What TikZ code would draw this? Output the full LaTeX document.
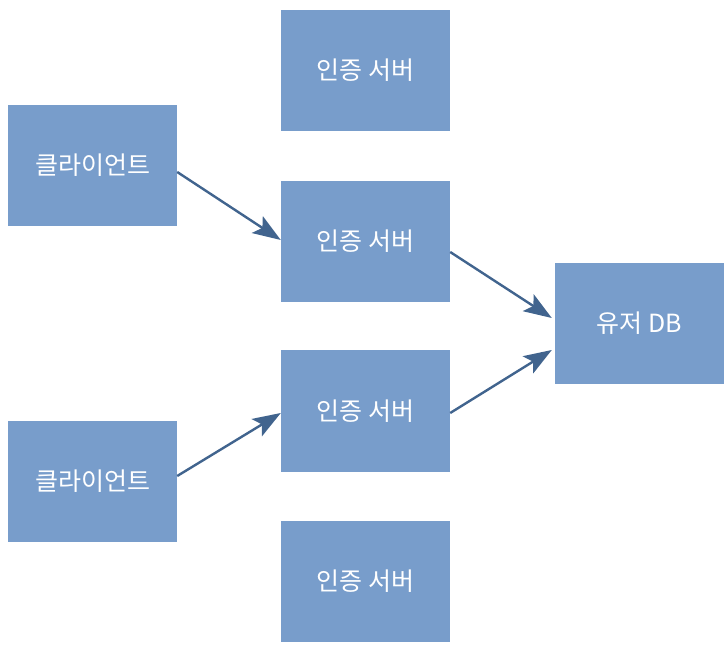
\documentclass[tikz,border=0pt]{standalone}
\usepackage{fontspec}
\newfontfamily\kr{Noto Sans CJK KR}
\usepackage{xcolor}
\usetikzlibrary{arrows.meta}
\definecolor{boxblue}{HTML}{789DCB}
\definecolor{arrowblue}{HTML}{41648E}

\begin{document}
\begin{tikzpicture}[x=1pt, y=1pt,
  font=\kr\fontsize{25}{30}\selectfont,
  b/.style={rectangle, fill=boxblue, text=white, minimum width=169pt,
            minimum height=121pt, inner sep=0pt},
  conn/.style={-{Stealth[length=28pt,width=20pt,inset=6pt]}, draw=arrowblue,
               line width=2.4pt}]
  \useasboundingbox (0,0) rectangle (728,646);
  \node[b] (cl1) at (92.5,480.5) {클라이언트};
  \node[b] (cl2) at (92.5,164.5) {클라이언트};
  \node[b] (as1) at (365.5,575.5) {인증 서버};
  \node[b] (as2) at (365.5,404.5) {인증 서버};
  \node[b] (as3) at (365.5,235) {인증 서버};
  \node[b] (as4) at (365.5,64.5) {인증 서버};
  \node[b] (db) at (639.5,322.5) {유저 DB};
  \draw[conn] ([yshift=-6.5pt]cl1.east) -- ([yshift=1.5pt]as2.west);
  \draw[conn] ([yshift=5.5pt]cl2.east) -- ([yshift=-2pt]as3.west);
  \draw[conn] ([yshift=-10.5pt]as2.east) -- ([xshift=-3pt,yshift=5.5pt]db.west);
  \draw[conn] ([yshift=-2pt]as3.east) -- ([xshift=-3pt,yshift=-26.5pt]db.west);
\end{tikzpicture}
\end{document}
